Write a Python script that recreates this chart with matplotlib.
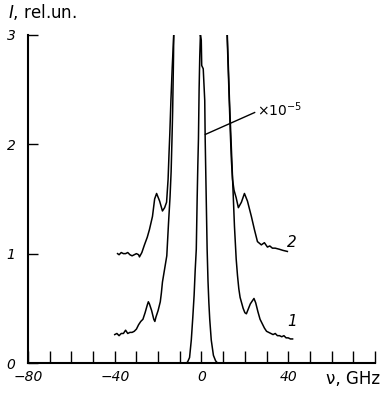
import matplotlib.pyplot as plt
from matplotlib.ticker import FixedLocator, FixedFormatter

# curve 1 (lower trace)
nu1 = [-40, -39, -38, -37, -36, -35, -34, -33, -32, -31, -30, -29, -28, -27, -26, -25,
       -24.5, -24, -23, -22, -21.5, -21, -20, -19, -18.5, -18, -17, -16, -15.2, -14.5,
       -14.0, -13.6, -13.3, -13.1, -12.9, -12.8]
i1 = [0.26, 0.27, 0.25, 0.27, 0.27, 0.30, 0.27, 0.28, 0.28, 0.29, 0.31, 0.35, 0.38, 0.40, 0.46, 0.53,
      0.56, 0.54, 0.48, 0.40, 0.38, 0.42, 0.48, 0.56, 0.64, 0.74, 0.86, 0.98, 1.28, 1.52,
      1.75, 2.05, 2.3, 2.55, 2.8, 3.0]
nu1r = [11.9, 12.4, 12.9, 13.5, 14.3, 15.2, 16.0, 16.6, 17.2, 17.8, 18.5, 19.2, 20.0, 20.7,
        21.5, 22.5, 23.5, 24.2, 25, 26, 27, 28, 29, 30, 31, 32, 33, 34, 35, 36, 37, 38,
        39, 40, 41, 42]
i1r = [3.0, 2.7, 2.4, 2.1, 1.7, 1.25, 0.95, 0.8, 0.68, 0.6, 0.55, 0.50, 0.46, 0.45,
       0.49, 0.54, 0.57, 0.59, 0.55, 0.47, 0.40, 0.36, 0.32, 0.29, 0.28, 0.27, 0.26, 0.27,
       0.25, 0.25, 0.24, 0.25, 0.23, 0.23, 0.22, 0.22]

# curve 2 (upper trace)
nu2 = [-38.7, -38, -37, -36, -35, -34, -33, -32, -31, -30, -29, -28.6, -27.5, -26.3, -25, -24,
       -22.6, -21.6, -20.7, -19.3, -18, -17, -16.1, -15.4, -15.0, -14.6, -14.1, -13.5, -12.8]
i2 = [1.00, 0.99, 1.01, 1.00, 1.00, 1.01, 0.99, 0.98, 0.99, 1.00, 0.99, 0.97, 1.01, 1.08, 1.15, 1.22,
      1.34, 1.50, 1.55, 1.48, 1.39, 1.42, 1.47, 1.68, 1.9, 2.1, 2.4, 2.7, 3.0]
nu2r = [11.8, 12.3, 12.8, 13.3, 13.8, 14.3, 15.0, 16.0, 17.0, 18.4, 19.8, 21.2, 23.0, 24.4,
        25.8, 27.6, 29.0, 30.4, 31.5, 32.7, 34, 35.9, 37.5, 39.6]
i2r = [3.0, 2.7, 2.4, 2.1, 1.85, 1.68, 1.58, 1.51, 1.42, 1.47, 1.55, 1.48, 1.34, 1.22,
       1.11, 1.08, 1.10, 1.06, 1.07, 1.05, 1.05, 1.04, 1.03, 1.02]

# central line, scaled x1e-5
nu0 = [-7, -6.4, -5.5, -4.7, -4.0, -3.4, -2.9, -2.4, -2.0, -1.7, -1.4, -1.1, -0.8, -0.5,
       -0.1, 0.1, 0.8, 1.5, 1.7, 2.1, 2.6, 3.0, 3.4, 3.8, 4.5, 5.5, 6.5, 7.4]
i0 = [0.0, 0.01, 0.05, 0.21, 0.42, 0.62, 0.85, 1.04, 1.5, 1.8, 2.05, 2.5, 2.8, 3.0,
      2.95, 2.72, 2.69, 2.4, 2.05, 1.6, 1.04, 0.75, 0.55, 0.4, 0.21, 0.07, 0.02, 0.0]

x_ticks = list(range(-80, 90, 10))
x_labels = ["\u221280" if t == -80 else "\u221240" if t == -40 else "0" if t == 0
            else "40" if t == 40 else "" for t in x_ticks]
y_ticks = [0, 1, 2, 3]

fig = plt.figure(figsize=(3.86, 3.93), dpi=100)
ax = fig.add_axes([0.0725, 0.0763, 0.899, 0.835])

kw = dict(color="black", linewidth=1.1, solid_joinstyle="round")
ax.plot(nu1, i1, **kw)
ax.plot(nu1r, i1r, **kw)
ax.plot(nu2, i2, **kw)
ax.plot(nu2r, i2r, **kw)
ax.plot(nu0, i0, **kw)

ax.set_xlim(-80, 80)
ax.set_ylim(0, 3)
for s in ("top", "right"):
    ax.spines[s].set_visible(False)
for s in ("left", "bottom"):
    ax.spines[s].set_linewidth(1.5)

ax.xaxis.set_major_locator(FixedLocator(x_ticks))
ax.xaxis.set_major_formatter(FixedFormatter(x_labels))
ax.set_yticks(y_ticks)
ax.set_yticklabels(["0", "1", "2", "3"])
ax.tick_params(axis="x", direction="in", length=8.5, width=1.0, pad=5)
ax.tick_params(axis="y", direction="in", length=7.5, width=1.0, pad=9)
for lab in ax.get_xticklabels() + ax.get_yticklabels():
    lab.set_fontstyle("italic")
    lab.set_fontsize(10)

# axis titles
fig.text(0.02, 0.945, "$\\mathit{I}$, rel.un.", fontsize=12, ha="left", va="bottom")
fig.text(0.845, 0.035, "\u03bd, GHz", fontsize=12, ha="left", va="center")

# curve numbers
ax.text(39.5, 1.1, "2", fontsize=11, style="italic", ha="left", va="center")
ax.text(39.5, 0.38, "1", fontsize=11, style="italic", ha="left", va="center")

# scale note for the central line
ax.plot([1.8, 24.5], [2.09, 2.29], color="black", linewidth=1.0)
ax.text(25.5, 2.32, "$\\times\\mathit{10}^{-5}$", fontsize=10, ha="left", va="center")

fig.savefig("out.png", dpi=100)
